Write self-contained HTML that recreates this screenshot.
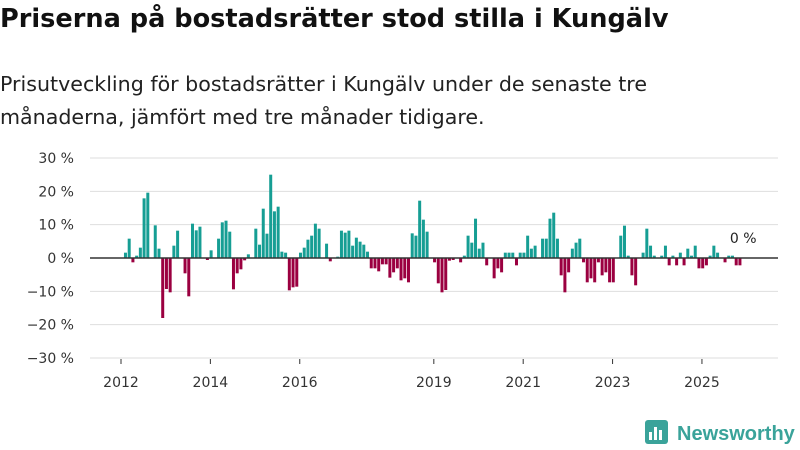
<!DOCTYPE html>
<html><head><meta charset="utf-8"><style>
body{margin:0;width:800px;height:450px;background:#fff;overflow:hidden;font-family:"Liberation Sans",sans-serif;color:#222}
#title{position:absolute;left:0;top:4px;font-family:"DejaVu Sans",sans-serif;font-size:25.6px;font-weight:bold;color:#111;margin:0;white-space:nowrap}
#sub{position:absolute;left:0;top:68px;font-family:"DejaVu Sans",sans-serif;font-size:20.6px;line-height:33px;color:#222;white-space:nowrap}
svg{position:absolute;left:0;top:0}
</style></head><body>
<h1 id="title">Priserna på bostadsrätter stod stilla i Kungälv</h1>
<div id="sub">Prisutveckling för bostadsrätter i Kungälv under de senaste tre<br>månaderna, jämfört med tre månader tidigare.</div>
<svg id="chart" width="800" height="450"></svg>
<script>
const startMonth = 1; // Feb 2012 (months since Jan 2012)
const values = [1.6,5.8,-1.3,0.7,3.1,17.9,19.6,0,9.8,2.8,-18,-9.3,-10.3,3.7,8.2,0,-4.6,-11.5,10.3,8.3,9.4,0,-0.6,2.3,0,5.8,10.7,11.2,7.9,-9.4,-4.6,-3.4,-0.7,1.1,0,8.8,4,14.8,7.3,25,
14,15.4,1.9,1.6,-9.7,-8.8,-8.6,1.6,3.1,5.5,6.7,10.3,8.8,0,4.3,-1,0,0.4,8.2,7.6,8.2,3.7,6.1,4.9,4,1.9,-3.1,-3.1,-4,-1.9,-1.9,-5.9,-4.3,-3.1,-6.7,-6.1,-7.3,7.4,6.7,17.2,11.5,7.9,0,-1.3,-7.6,-10.3,
-9.6,-0.8,-0.6,0,-1.3,0.7,6.7,4.6,11.8,2.8,4.6,-2.2,0,-6.1,-3.1,-4.3,1.6,1.6,1.6,-2.2,1.6,1.6,6.7,2.8,3.7,0,5.8,5.8,11.8,13.6,5.8,-5.2,-10.3,-4.3,2.8,4.6,5.8,-1.3,-7.3,-6.1,-7.3,-1.3,-5.2,-4.3,-7.3,-7.3,0,
6.7,9.7,0.7,-5.2,-8.2,0,1.6,8.8,3.7,0.7,0,0.7,3.7,-2.2,0.7,-2.2,1.6,-2.2,2.8,0.7,3.7,-3.1,-3.1,-2.2,0.7,3.7,1.6,0,-1.3,0.7,0.7,-2.2,-2.2];
const yTicks = [-30,-20,-10,0,10,20,30];
const xTickYears = [2012,2014,2016,2019,2021,2023,2025];
const lastLabel = "0 %";

const NS="http://www.w3.org/2000/svg";
const svg=document.getElementById('chart');
const X0=90,X1=778;
function y(v){return 258-v*3.333;}
function xm(m){return 121+m*3.724;}
function mk(t,a,p){const e=document.createElementNS(NS,t);for(const k in a)e.setAttribute(k,a[k]);(p||svg).appendChild(e);return e;}
yTicks.forEach(t=>{
  const g=mk('line',{x1:X0,x2:X1,y1:y(t),y2:y(t),stroke:'#dedede','stroke-width':1});
  
  
  const l=mk('text',{x:74,y:y(t)+5,'text-anchor':'end','font-size':14,fill:'#333','font-family':'DejaVu Sans, sans-serif'});
  l.textContent=(t<0?'−'+(-t):t)+' %';
  
  
});
values.forEach((v,i)=>{
  const cx=xm(startMonth+i+0.2);
  const r=mk('rect',{x:cx-1.5,width:3,y:v>=0?y(v):y(0),height:Math.abs(v)*3.333,fill:v>=0?'#169e94':'#9b0040'});
  
  
});
const z=mk('line',{x1:X0,x2:X1,y1:y(0),y2:y(0),stroke:'#333','stroke-width':1.5});


xTickYears.forEach(yr=>{
  const cx=xm((yr-2012)*12);
  const tk=mk('line',{x1:cx,x2:cx,y1:359,y2:364,stroke:'#333'});
  
  
  const l=mk('text',{x:cx,y:387,'text-anchor':'middle','font-size':14,fill:'#333','font-family':'DejaVu Sans, sans-serif'});
  l.textContent=yr;
  
  
});
const lastX=xm(startMonth+values.length-1);
const ll=mk('text',{x:lastX+4,y:243,'text-anchor':'middle','font-size':14,fill:'#222','font-family':'DejaVu Sans, sans-serif'});
ll.textContent=lastLabel;


// logo
const lg=mk('g',{});


mk('rect',{x:645,y:420,width:23,height:24,rx:3,fill:'#3aa39a'},lg);
mk('rect',{x:649,y:432,width:3,height:8,fill:'#fff'},lg);
mk('rect',{x:654,y:427,width:3,height:13,fill:'#fff'},lg);
mk('rect',{x:659,y:430,width:3,height:10,fill:'#fff'},lg);
const lt=mk('text',{x:677,y:440,'font-size':20,'font-weight':'bold',fill:'#3aa39a'},lg);
lt.textContent='Newsworthy';
</script>
</body></html>
